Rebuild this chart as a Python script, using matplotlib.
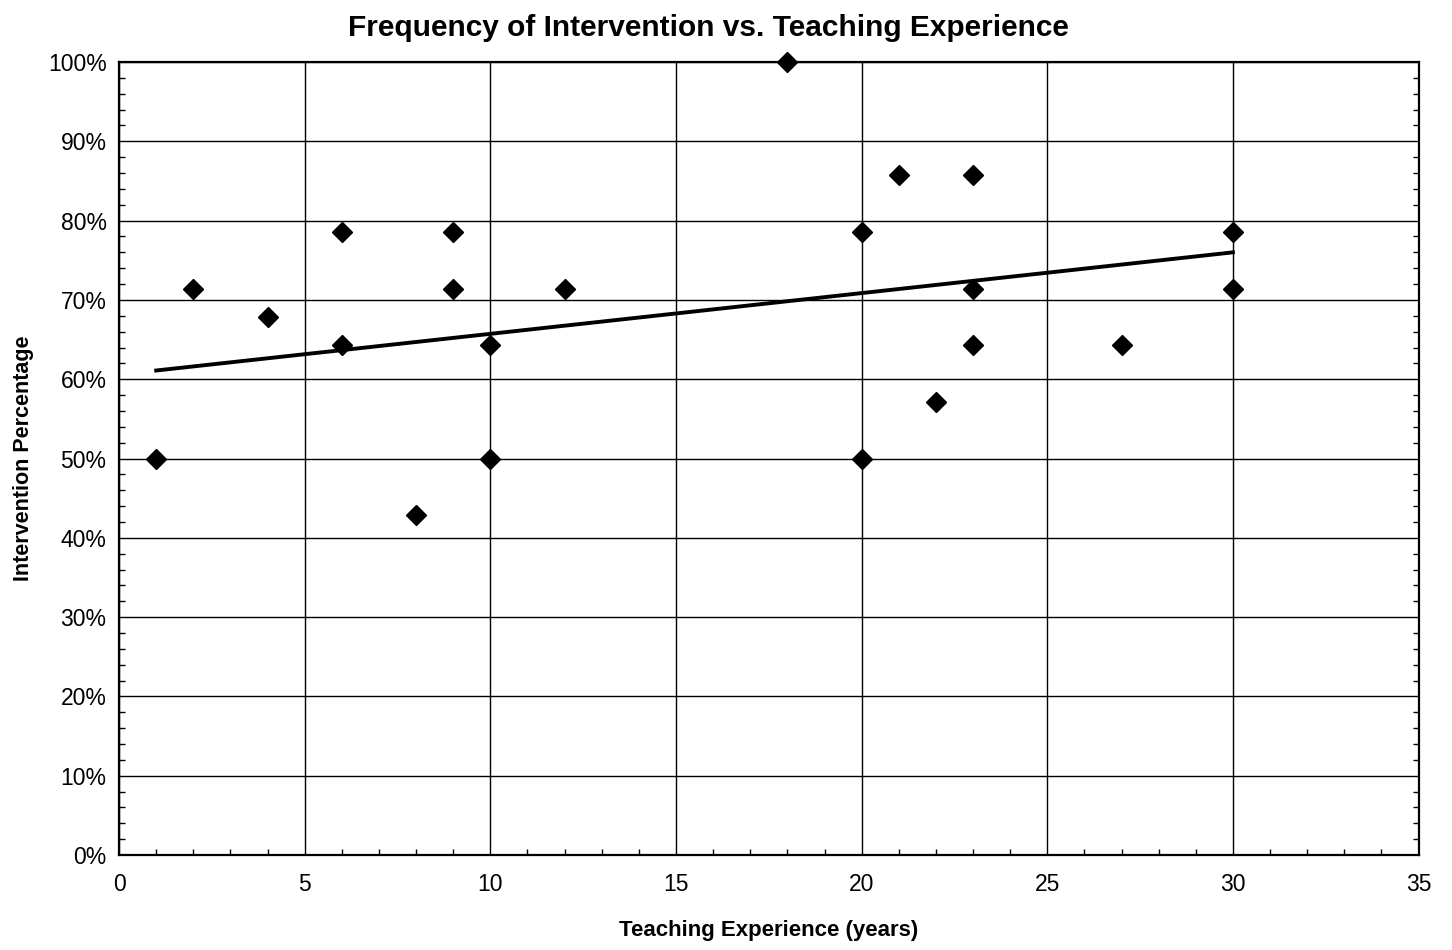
import matplotlib
matplotlib.use("Agg")
import matplotlib.pyplot as plt
from matplotlib.ticker import MultipleLocator, PercentFormatter

plt.rcParams['font.family'] = ['Liberation Sans', 'DejaVu Sans']

# teaching experience (years) and intervention share (%)
years = [1, 2, 4, 6, 6, 8, 9, 9, 10, 10, 12, 18, 20, 20, 21, 22, 23, 23, 23, 27, 30, 30]
percent = [50.0, 71.4, 67.9, 78.6, 64.3, 42.9, 78.6, 71.4, 64.3, 50.0, 71.4, 100.0,
           78.6, 50.0, 85.7, 57.1, 85.7, 71.4, 64.3, 64.3, 78.6, 71.4]

# linear trend line as drawn in the chart
trend_years = [1, 30]
trend_percent = [61.1, 76.0]

fig = plt.figure(figsize=(14.52, 9.5), dpi=100)
ax = fig.add_axes([0.082, 0.1, 0.895, 0.8347])

ax.set_xlim(0, 35)
ax.set_ylim(0, 100)
ax.xaxis.set_major_locator(MultipleLocator(5))
ax.xaxis.set_minor_locator(MultipleLocator(1))
ax.yaxis.set_major_locator(MultipleLocator(10))
ax.yaxis.set_minor_locator(MultipleLocator(2))
ax.yaxis.set_major_formatter(PercentFormatter(decimals=0))

ax.grid(True, which='major', color='black', linewidth=1.0)
ax.set_axisbelow(True)
ax.tick_params(which='major', direction='in', length=0, labelsize=16.5)
ax.tick_params(axis='x', which='major', pad=13)
ax.tick_params(axis='y', which='major', pad=9)
ax.tick_params(which='minor', direction='in', length=4, width=1, right=True)
for s in ax.spines.values():
    s.set_linewidth(1.6)

ax.plot(trend_years, trend_percent, color='black', linewidth=2.8, zorder=3)

ax.plot(years, percent, linestyle='none', marker='D', markersize=10.5,
        color='black', zorder=4, clip_on=False)

fig.text(0.488, 0.97, 'Frequency of Intervention vs. Teaching Experience',
         fontsize=21.5, fontweight='bold', ha='center', va='center')
ax.set_xlabel('Teaching Experience (years)', fontsize=16, fontweight='bold', labelpad=17)
ax.set_ylabel('Intervention Percentage', fontsize=15.5, fontweight='bold', labelpad=10)

fig.savefig('out.png', dpi=100)
